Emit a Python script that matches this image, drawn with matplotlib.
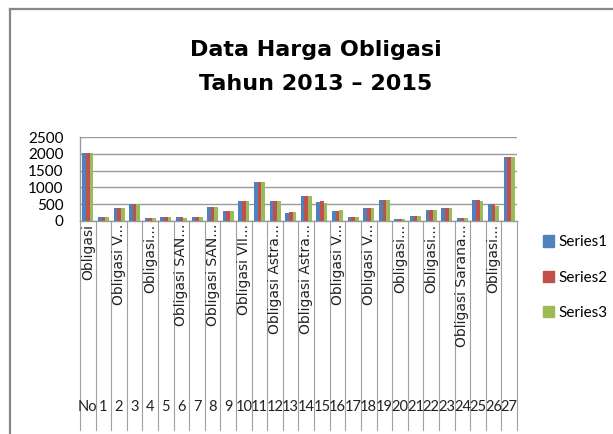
import matplotlib
matplotlib.use("Agg")
import matplotlib.pyplot as plt
import numpy as np
from matplotlib.lines import Line2D
from matplotlib.patches import Patch

# category axis: bottom row numbers, rotated bond names shown on every other cell
row_numbers = ["No"] + [str(i) for i in range(1, 28)]
bond_labels = [
    "Obligasi", "Obligasi V...", "Obligasi...", "Obligasi SAN...",
    "Obligasi SAN...", "Obligasi VII...", "Obligasi Astra...", "Obligasi Astra...",
    "Obligasi V...", "Obligasi V...", "Obligasi...", "Obligasi...",
    "Obligasi Sarana...", "Obligasi...",
]

series1 = [2030, 120, 375, 510, 90, 120, 120, 120, 405, 295, 605, 1150, 605, 240,
           745, 575, 290, 120, 375, 635, 60, 150, 320, 375, 90, 635, 515, 1915]
series2 = [2030, 120, 375, 510, 90, 120, 120, 120, 405, 295, 605, 1150, 605, 265,
           745, 605, 290, 120, 375, 635, 60, 150, 320, 375, 90, 635, 515, 1915]
series3 = [2025, 120, 375, 510, 90, 120, 90, 120, 405, 295, 605, 1150, 605, 265,
           745, 545, 315, 120, 375, 635, 60, 150, 320, 375, 90, 605, 455, 1915]

series_names = ["Series1", "Series2", "Series3"]
colors = ["#4F81BD", "#C0504D", "#9BBB59"]

plt.rcParams["font.family"] = ["Lato", "DejaVu Sans"]

W, H = 613, 434
fig = plt.figure(figsize=(W / 100, H / 100), dpi=100)

# plot area in pixels
left, right, top, bottom = 80, 517, 137.3, 220.7
ax = fig.add_axes([left / W, 1 - bottom / H, (right - left) / W, (bottom - top) / H])

x = np.arange(len(row_numbers))
bw = 0.235
for i, vals in enumerate([series1, series2, series3]):
    ax.bar(x + (i - 1) * bw, vals, width=bw, color=colors[i], zorder=3)

ax.set_xlim(-0.5, len(row_numbers) - 0.5)
ax.set_ylim(0, 2500)
ax.set_yticks(range(0, 2501, 500))
ax.yaxis.grid(True, color="#9a9a9a", lw=1.0, zorder=0)
ax.set_xticks([])
ax.tick_params(axis="y", length=0, pad=12, labelsize=11)
for s in ["top", "right"]:
    ax.spines[s].set_visible(False)
for s in ["left", "bottom"]:
    ax.spines[s].set_color("#9a9a9a")
    ax.spines[s].set_linewidth(1.0)

# category label band below the axis
band_bottom = (bottom - 430) / (bottom - top)
trans = ax.get_xaxis_transform()
for k in range(len(row_numbers) + 1):
    ax.plot([k - 0.5, k - 0.5], [0, band_bottom], color="#a0a0a0", lw=0.8,
            transform=trans, clip_on=False)

for j, name in enumerate(bond_labels):
    ax.text(2 * j, -0.04, name, rotation=90, ha="center", va="top",
            fontsize=10, family=["DejaVu Sans"], transform=trans, color="#222222")

num_y = (bottom - 407) / (bottom - top)
for k, lab in enumerate(row_numbers):
    ax.text(k, num_y, lab, ha="center", va="center", fontsize=10.5,
            transform=trans, color="#222222")

# title
fig.text(0.515, 1 - 40 / H, "Data Harga Obligasi\nTahun 2013 \u2013 2015",
         ha="center", va="top", fontsize=16, fontweight="bold",
         family=["DejaVu Sans"], linespacing=1.85)

# legend
handles = [Patch(color=c) for c in colors]
fig.legend(handles, series_names, loc="center left",
           bbox_to_anchor=(535 / W, 1 - 277.5 / H), frameon=False,
           fontsize=11, handlelength=0.75, handleheight=0.75,
           handletextpad=0.3, labelspacing=1.38, borderpad=0)

# chart area border (only top and left edges inside the image)
fig.add_artist(Line2D([10 / W, 1.1], [1 - 9 / H, 1 - 9 / H], color="#878787",
                      lw=1.6, transform=fig.transFigure))
fig.add_artist(Line2D([10 / W, 10 / W], [-0.1, 1 - 9 / H], color="#878787",
                      lw=1.6, transform=fig.transFigure))

fig.savefig("out.png", dpi=100)
